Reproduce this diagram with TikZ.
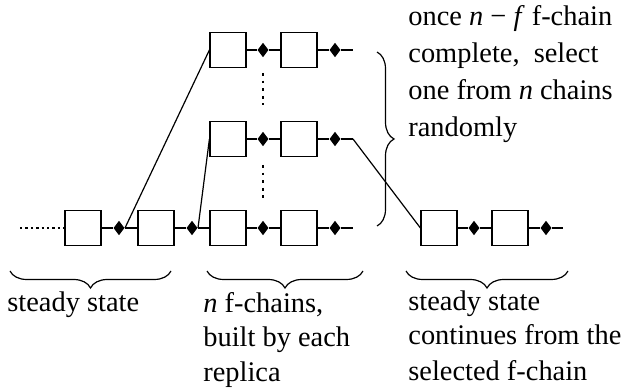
\documentclass[tikz,border=0pt]{standalone}
\usepackage{fontspec}
\setmainfont{Liberation Serif}
\usetikzlibrary{shapes.geometric, decorations.pathreplacing}

\begin{document}
\begin{tikzpicture}[
        x=0.5pt, y=-0.5pt,
        block/.style={rectangle, draw=black, line width=0.6pt, minimum width=18pt, minimum height=17.5pt, inner sep=0pt},
        link/.style={diamond, fill=black, inner sep=0pt, minimum width=5.6pt, minimum height=7.4pt},
        chain/.style={line width=0.6pt},
        leaddots/.style={line width=1.2pt, dash pattern=on 1.2pt off 1.5pt},
        vdots/.style={line width=1.4pt, dash pattern=on 1.4pt off 2.4pt},
        brace/.style={decorate, decoration={brace, amplitude=8.5pt}, line width=0.6pt},
        note/.style={anchor=base west, align=left, inner sep=0pt, font=\fontsize{14.2}{17.5}\selectfont}
        ]
        \useasboundingbox (0,0) rectangle (626,389);

        % Steady state chain (left)
        \coordinate (sstart) at (20,228);
        \node[block] (s1) at (83,228) {};
        \node[link] (sd1) at (119,228) {};
        \node[block] (s2) at (156,228) {};
        \node[link] (sd2) at (192,228) {};

        % n f-chains
        \node[block] (a1) at (228,50) {};
        \node[link] (ad1) at (263,50) {};
        \node[block] (a2) at (299,50) {};
        \node[link] (ad2) at (335,50) {};
        \coordinate (aend) at (353,50);

        \node[block] (b1) at (228,139) {};
        \node[link] (bd1) at (263,139) {};
        \node[block] (b2) at (299,139) {};
        \node[link] (bd2) at (335,139) {};
        \coordinate (bend) at (353,139);

        \node[block] (c1) at (228,228) {};
        \node[link] (cd1) at (263,228) {};
        \node[block] (c2) at (299,228) {};
        \node[link] (cd2) at (335,228) {};
        \coordinate (cend) at (353,228);

        % Steady state chain (right)
        \node[block] (r1) at (439,228) {};
        \node[link] (rd1) at (474,228) {};
        \node[block] (r2) at (510,228) {};
        \node[link] (rd2) at (546,228) {};
        \coordinate (rend) at (563,228);

        % Chain links
        \draw[leaddots] (sstart) -- (s1.west);
        \draw[chain] (s1) -- (sd1) -- (s2) -- (sd2) -- (c1);
        \draw[chain] (c1) -- (cd1) -- (c2) -- (cd2) -- (cend);
        \draw[chain] (a1) -- (ad1) -- (a2) -- (ad2) -- (aend);
        \draw[chain] (b1) -- (bd1) -- (b2) -- (bd2) -- (bend);
        \draw[chain] (r1) -- (rd1) -- (r2) -- (rd2) -- (rend);

        % Forks and the selected f-chain
        \draw[chain] (sd1.east) -- (a1.west);
        \draw[chain] (sd2.east) -- (b1.west);
        \draw[chain] (bend) -- (r1.west);

        % Vertical dots between f-chains
        \coordinate (dotsa) at (263,73);
        \coordinate (dotsb) at (263,105);
        \coordinate (dotsc) at (263,165);
        \coordinate (dotsd) at (263,198);
        \draw[vdots] (dotsa) -- (dotsb);
        \draw[vdots] (dotsc) -- (dotsd);

        % Braces
        \coordinate (selbrtop) at (377,52);
        \coordinate (selbrbot) at (377,226);
        \draw[brace] (selbrtop) -- (selbrbot);
        \coordinate (stbrl) at (10,271);
        \coordinate (stbrr) at (171,271);
        \draw[brace] (stbrr) -- (stbrl);
        \coordinate (fcbrl) at (207,271);
        \coordinate (fcbrr) at (363,271);
        \draw[brace] (fcbrr) -- (fcbrl);
        \coordinate (ctbrl) at (406,271);
        \coordinate (ctbrr) at (568,271);
        \draw[brace] (ctbrr) -- (ctbrl);

        % Notes (anchored at the baseline of their last line)
        \node[note, font=\fontsize{14.2}{18.6}\selectfont] (selnote) at (408,137) {once \textit{n} − \textit{f} f-chain\\complete,~ select\\one from \textit{n} chains\\randomly};
        \node[note] (steadynote) at (7,312) {steady state};
        \node[note] (fchainnote) at (203,382) {\textit{n} f-chains,\\built by each\\replica};
        \node[note] (contnote) at (408,380) {steady state\\continues from the\\selected f-chain};
\end{tikzpicture}
\end{document}
